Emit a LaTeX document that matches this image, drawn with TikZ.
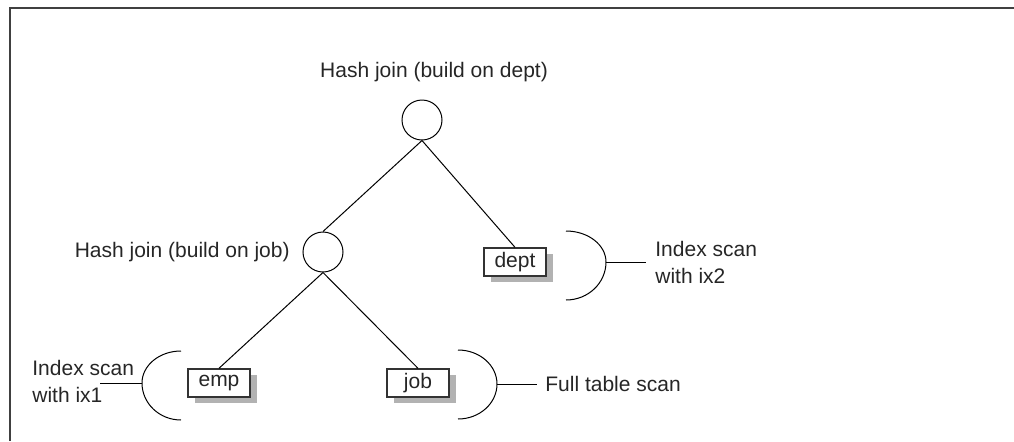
\documentclass[tikz,border=0pt]{standalone}
\usepackage{fontspec}
\setmainfont{Liberation Sans}
\usetikzlibrary{shadows}

\begin{document}
\begin{tikzpicture}[x=0.5pt,y=0.5pt,
		every node/.style={font=\fontsize{10.5}{13.5}\selectfont, text=black!85},
		joinnode/.style={draw, circle, minimum size=20pt, inner sep=0pt, line width=0.5pt},
		tablebox/.style={draw=black!80, fill=white, line width=0.7pt, minimum width=31pt, minimum height=14pt, inner sep=1pt,
			drop shadow={shadow xshift=3.5pt, shadow yshift=-3pt, fill=black!30, opacity=1}},
		scanlabel/.style={align=left, inner ysep=0pt, anchor=west},
		edge/.style={line width=0.5pt}]
	\useasboundingbox (0,0) rectangle (1014,-441);
	\draw [line width=1pt, black!75] (10,-441) -- (10,-8) -- (1014,-8);
	
	% join nodes
	\node [joinnode] (top) at (422,-120) {};
	\node [joinnode] (mid) at (323,-252) {};
	\node [inner sep=0pt] (toplabel) at (434,-72) {Hash join (build on dept)};
	\node [inner sep=0pt, anchor=east] (midlabel) at (290,-252) {Hash join (build on job)};
	
	% tables
	\node [tablebox] (dept) at (515,-262) {dept};
	\node [tablebox] (emp) at (219,-383) {emp};
	\node [tablebox] (job) at (418,-383) {job};
	
	\draw [edge] (top.south) -- (mid.north);
	\draw [edge] (top.south) -- (dept.north);
	\draw [edge] (mid.south) -- (emp.north);
	\draw [edge] (mid.south) -- (job.north);
	
	% brackets
	\coordinate (empbr) at (142,-383);
	\coordinate (jobbr) at (497,-384);
	\coordinate (deptbr) at (606,-262);
	\draw [edge] (empbr) arc (180:90:39 and 32) (empbr) arc (180:270:39 and 37);
	\draw [edge] (jobbr) arc (0:90:39 and 34) (jobbr) arc (0:-90:39 and 35);
	\draw [edge] (deptbr) arc (0:90:40 and 31) (deptbr) arc (0:-90:40 and 38);
	
	% scan labels
	\node [scanlabel, inner xsep=0pt] (ix1) at (32,-381) {Index scan\\with ix1};
	\node [scanlabel, inner xsep=4pt] (fullscan) at (537,-384) {Full table scan};
	\node [scanlabel, inner xsep=4.5pt] (ix2) at (646,-262) {Index scan\\with ix2};
	\coordinate (empfree) at (100,-383);
	
	\draw [edge] (empbr) -- (empfree);
	\draw [edge] (jobbr) -- (fullscan.west);
	\draw [edge] (deptbr) -- (ix2.west);
\end{tikzpicture}
\end{document}
